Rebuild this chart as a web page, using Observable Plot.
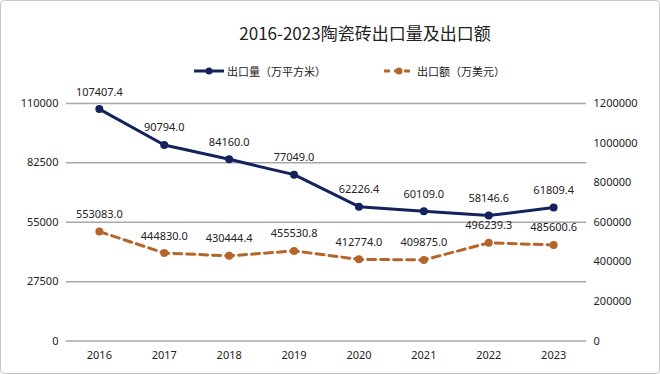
<!DOCTYPE html>
<html>
<head>
<meta charset="utf-8">
<script src="https://cdn.jsdelivr.net/npm/d3@7"></script>
<script src="https://cdn.jsdelivr.net/npm/@observablehq/plot@0.6"></script>
<style>
  html, body { margin: 0; padding: 0; background: #fff; }
  #wrap { position: relative; width: 658px; height: 372px; border: 1px solid #c8c8c8; border-radius: 4px; overflow: hidden; font-family: "Noto Sans CJK SC", "Noto Sans", sans-serif; }
  #title { position: absolute; left: 0; width: 100%; top: 20px; text-align: center; font-size: 17px; color: #222; padding-left: 70px; box-sizing: border-box; line-height: 24px; }
  #legend { position: absolute; top: 61px; left: 192px; font-size: 11px; color: #222; display: flex; align-items: center; line-height: 18px; }
  #legend .item { display: flex; align-items: center; }
  #chart { position: absolute; top: 80px; left: -1px; }
</style>
</head>
<body>
<div id="wrap">
  <div id="title">2016-2023陶瓷砖出口量及出口额</div>
  <div id="legend">
    <div class="item"><svg width="32" height="10"><line x1="1" y1="5" x2="31" y2="5" stroke="#14225e" stroke-width="3"/><circle cx="16" cy="5" r="3.5" fill="#14225e"/></svg><span style="margin-left:2px">出口量（万平方米）</span></div>
    <div class="item" style="margin-left:57px"><svg width="32" height="10"><line x1="1" y1="5" x2="31" y2="5" stroke="#b5652a" stroke-width="3" stroke-dasharray="6,4"/><circle cx="16" cy="5" r="3.5" fill="#b5652a"/></svg><span style="margin-left:2px">出口额（万美元）</span></div>
  </div>
  <div id="chart"></div>
</div>
<script>
const years = ["2016", "2017", "2018", "2019", "2020", "2021", "2022", "2023"];
const volume = [107407.4, 90794.0, 84160.0, 77049.0, 62226.4, 60109.0, 58146.6, 61809.4];
const exportValue = [553083.0, 444830.0, 430444.4, 455530.8, 412774.0, 409875.0, 496239.3, 485600.6];
const leftTicks = [0, 27500, 55000, 82500, 110000];
const rightTicks = [0, 200000, 400000, 600000, 800000, 1000000, 1200000];
const leftMax = 110000;
const rightMax = 1200000;

const k = leftMax / rightMax;
const volData = years.map((y, i) => ({year: y, v: volume[i]}));
const valData = years.map((y, i) => ({year: y, v: exportValue[i], s: exportValue[i] * k}));

const navy = "#14225e";
const brown = "#b5652a";

const chart = Plot.plot({
  width: 660,
  height: 294,
  marginTop: 22,
  marginBottom: 34,
  marginLeft: 66,
  marginRight: 73,
  style: {fontFamily: "'Noto Sans', 'Noto Sans CJK SC', sans-serif", fontSize: "11px", color: "#222", background: "transparent"},
  x: {type: "point", domain: years, padding: 0.5, label: null},
  y: {domain: [0, leftMax], label: null},
  marks: [
    Plot.ruleY(leftTicks, {stroke: "#a8a8a8", strokeWidth: 1.5}),
    Plot.axisY(leftTicks, {anchor: "left", tickSize: 0, tickPadding: 8, label: null, tickFormat: d => String(d)}),
    Plot.axisY(rightTicks.map(v => v * k), {anchor: "right", tickSize: 0, tickPadding: 7, label: null, tickFormat: d => String(Math.round(d / k))}),
    Plot.axisX({tickSize: 0, tickPadding: 10, label: null}),
    Plot.line(valData, {x: "year", y: "s", stroke: brown, strokeWidth: 3, strokeDasharray: "8,5"}),
    Plot.dot(valData, {x: "year", y: "s", r: 4, fill: brown}),
    Plot.line(volData, {x: "year", y: "v", stroke: navy, strokeWidth: 3}),
    Plot.dot(volData, {x: "year", y: "v", r: 4, fill: navy}),
    Plot.text(volData, {x: "year", y: "v", text: d => d.v.toFixed(1), dy: -17, fill: "#222", fontSize: 11}),
    Plot.text(valData, {x: "year", y: "s", text: d => d.v.toFixed(1), dy: -17, fill: "#222", fontSize: 11})
  ]
});
document.getElementById("chart").appendChild(chart);
</script>
</body>
</html>
